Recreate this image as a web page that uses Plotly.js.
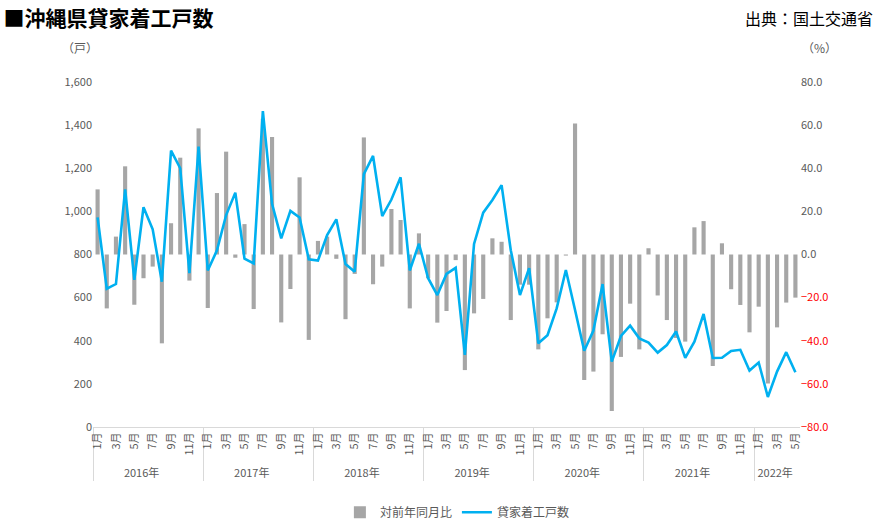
<!DOCTYPE html>
<html>
<head>
<meta charset="utf-8">
<script src="https://cdn.plot.ly/plotly-3.0.1.min.js"></script>
<style>
  html, body { margin: 0; padding: 0; background: #fff; }
  #chart { width: 883px; height: 525px; }
</style>
</head>
<body>
<div id="chart"></div>
<script>
// 2016年1月 〜 2022年5月
var years = ['2016年', '2017年', '2018年', '2019年', '2020年', '2021年', '2022年'];
var monthNames = ['1月', '2月', '3月', '4月', '5月', '6月', '7月', '8月', '9月', '10月', '11月', '12月'];
var monthsIn = [12, 12, 12, 12, 12, 12, 5];

// 対前年同月比 (%)
var yoy = [
  30.2, -25.0, 8.3, 40.9, -23.3, -11.0, -5.6, -41.2, 14.5, 44.9, -12.1, 58.5,
  -24.8, 28.5, 47.7, -1.5, 14.1, -25.3, 63.0, 54.5, -31.5, -16.0, 35.8, -39.6,
  6.3, 8.3, -2.0, -30.0, -9.0, 54.3, -13.8, -5.6, 21.1, 16.0, -25.0, 9.8,
  -11.0, -31.6, -26.2, -2.6, -53.6, -27.3, -20.6, 7.5, 5.9, -30.4, -14.0, -14.0,
  -44.0, -29.6, -22.2, -0.5, 60.8, -58.2, -54.3, -37.0, -72.6, -47.5, -22.8, -44.0,
  2.9, -19.0, -30.4, -38.7, -40.4, 12.6, 15.5, -51.7, 5.2, -16.1, -23.4, -36.1,
  -24.2, -59.8, -33.8, -22.3, -20.0
];

// 貸家着工戸数 (戸)
var starts = [
  972, 641, 663, 1102, 682, 1019, 917, 674, 1282, 1200, 713, 1300,
  726, 819, 983, 1087, 781, 759, 1465, 1035, 875, 1002, 972, 778,
  772, 890, 963, 756, 720, 1173, 1257, 978, 1055, 1158, 726, 850,
  690, 612, 710, 738, 334, 849, 994, 1053, 1122, 820, 612, 737,
  388, 426, 550, 728, 543, 354, 447, 663, 303, 422, 470, 411,
  391, 345, 380, 443, 321, 396, 524, 320, 321, 353, 358, 262,
  299, 139, 257, 347, 254
];

// x axis: two levels, only odd months get a visible label
var xYear = [], xMonth = [];
for (var y = 0; y < years.length; y++) {
  for (var m = 0; m < monthsIn[y]; m++) {
    xYear.push(years[y]);
    // even months: unique blank labels so the categories stay distinct
    xMonth.push(m % 2 == 0 ? monthNames[m] : new Array(m + 2).join(' '));
  }
}

var gray = '#595959';
var font = '"Noto Sans CJK JP", "Noto Sans", sans-serif';

var bars = {
  type: 'bar',
  name: '対前年同月比',
  x: [xYear, xMonth],
  y: yoy,
  yaxis: 'y',
  width: 0.45,
  marker: { color: '#a6a6a6' },
  hoverinfo: 'y'
};

var line = {
  type: 'scatter',
  mode: 'lines',
  name: '貸家着工戸数',
  x: [xYear, xMonth],
  y: starts,
  yaxis: 'y2',
  line: { color: '#00b0f0', width: 2.6 },
  hoverinfo: 'y'
};

// the same YoY values again on a third axis, only to carry the red negative tick labels
var negAxis = {
  type: 'scatter',
  mode: 'markers',
  x: [xYear, xMonth],
  y: yoy,
  yaxis: 'y3',
  marker: { opacity: 0 },
  showlegend: false,
  hoverinfo: 'skip'
};

var layout = {
  width: 883,
  height: 525,
  margin: { l: 93, r: 83, t: 82, b: 98 },
  paper_bgcolor: '#ffffff',
  plot_bgcolor: '#ffffff',
  font: { family: font, color: gray, size: 11 },
  title: {
    text: '<b>■沖縄県貸家着工戸数</b>',
    x: 0.004, xanchor: 'left', xref: 'container',
    y: 0.965, yanchor: 'middle', yref: 'container',
    font: { family: font, size: 21, color: '#000000' }
  },
  showlegend: true,
  legend: {
    orientation: 'h',
    xref: 'container', yref: 'container',
    x: 0.518, xanchor: 'center',
    y: 0.052, yanchor: 'top',
    font: { family: font, size: 12, color: gray },
    traceorder: 'normal'
  },
  xaxis: {
    type: 'multicategory',
    autorange: false,
    range: [-0.5, yoy.length - 0.5],
    automargin: false,
    showline: true,
    linecolor: '#d9d9d9',
    linewidth: 1,
    showgrid: false,
    ticks: '',
    tickangle: -90,
    tickfont: { family: font, size: 11, color: gray },
    showdividers: true,
    dividercolor: '#d9d9d9',
    dividerwidth: 1
  },
  yaxis: {
    side: 'right',
    automargin: false,
    range: [-80, 80],
    tickvals: [0, 20, 40, 60, 80],
    tickformat: '.1f',
    showgrid: false,
    zeroline: false,
    showline: false,
    ticks: '',
    tickfont: { family: font, size: 11, color: gray }
  },
  yaxis2: {
    overlaying: 'y',
    side: 'left',
    automargin: false,
    range: [0, 1600],
    dtick: 200,
    tickformat: ',.0f',
    showgrid: false,
    zeroline: false,
    showline: false,
    ticks: '',
    tickfont: { family: font, size: 11, color: gray }
  },
  yaxis3: {
    overlaying: 'y',
    side: 'right',
    anchor: 'x',
    automargin: false,
    range: [-80, 80],
    tickvals: [-20, -40, -60, -80],
    tickformat: '.1f',
    showgrid: false,
    zeroline: false,
    showline: false,
    ticks: '',
    tickfont: { family: font, size: 11, color: '#ff0000' }
  },
  annotations: [
    {
      text: '出典：国土交通省',
      xref: 'paper', yref: 'paper',
      x: 1.106, y: 1.186, xanchor: 'right', yanchor: 'middle',
      showarrow: false,
      font: { family: font, size: 16, color: '#000000' }
    },
    {
      text: '（戸）',
      xref: 'paper', yref: 'paper',
      x: 0.01, y: 1.1, xanchor: 'right', yanchor: 'middle',
      showarrow: false,
      font: { family: font, size: 12, color: gray }
    },
    {
      text: '（%）',
      xref: 'paper', yref: 'paper',
      x: 1.0, y: 1.1, xanchor: 'left', yanchor: 'middle',
      showarrow: false,
      font: { family: font, size: 12, color: gray }
    }
  ]
};

Plotly.newPlot('chart', [bars, line, negAxis], layout, { displayModeBar: false, staticPlot: true });
</script>
</body>
</html>
